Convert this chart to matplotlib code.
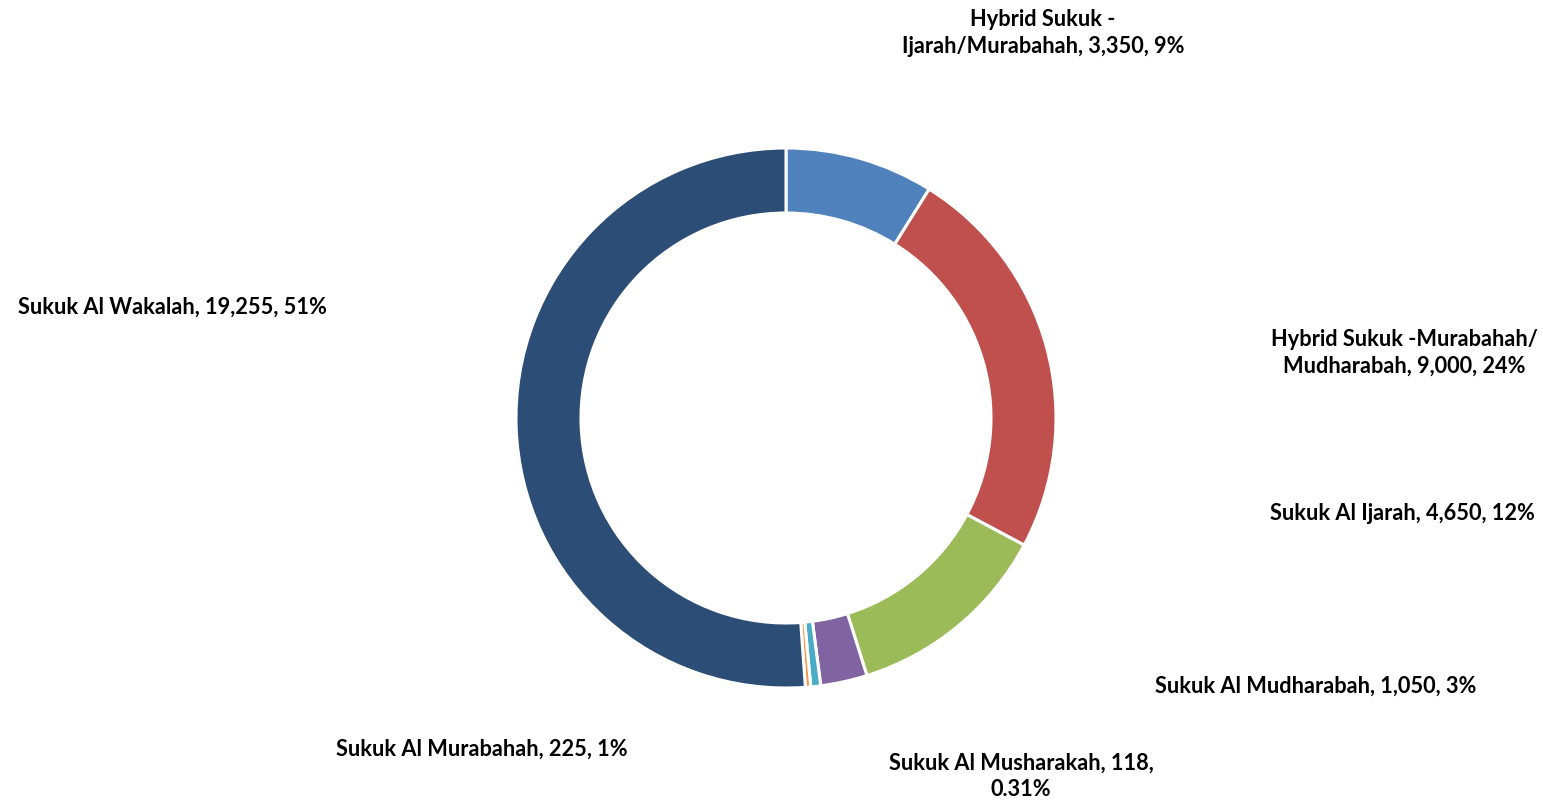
import matplotlib
matplotlib.use("Agg")
import matplotlib.pyplot as plt

categories = ["Hybrid Sukuk -\nIjarah/Murabahah", "Hybrid Sukuk -Murabahah/\nMudharabah",
              "Sukuk Al Ijarah", "Sukuk Al Mudharabah", "Sukuk Al Murabahah",
              "Sukuk Al Musharakah", "Sukuk Al Wakalah"]
values = [3350, 9000, 4650, 1050, 225, 118, 19255]
colors = ["#4F81BD", "#C0504D", "#9BBB59", "#8064A2", "#4BACC6", "#F79646", "#2C4D75"]

# label centres in pixel coords (x, y from top)
label_pos = [(1043, 33), (1404, 353), (1402, 514), (1316, 686), (482, 749), (1021, 776), (172, 307)]

H = 802
total = sum(values)

def pct_text(v):
    p = v / total * 100
    if p < 0.5:
        return "%.2f%%" % p
    return "%d%%" % round(p)

fig = plt.figure(figsize=(15.43, 8.02), dpi=100)
ax = fig.add_axes([0, 0, 1, 1])

ax.pie(values, colors=colors, center=(786, H - 418), radius=270, startangle=90,
       counterclock=False, frame=True,
       wedgeprops=dict(width=65, edgecolor="white", linewidth=2.2))
ax.set_xlim(0, 1543)
ax.set_ylim(0, H)
ax.set_aspect("equal")
ax.axis("off")

for name, v, (x, y) in zip(categories, values, label_pos):
    txt = "%s, %s, %s" % (name, format(v, ","), pct_text(v))
    if name == "Sukuk Al Musharakah":
        txt = "%s, %s,\n%s" % (name, format(v, ","), pct_text(v))
    ax.text(x, H - y, txt, ha="center", va="center", fontsize=15.7, fontweight="bold",
            family="Lato", color="black", linespacing=1.3)

fig.savefig("out.png", dpi=100)
